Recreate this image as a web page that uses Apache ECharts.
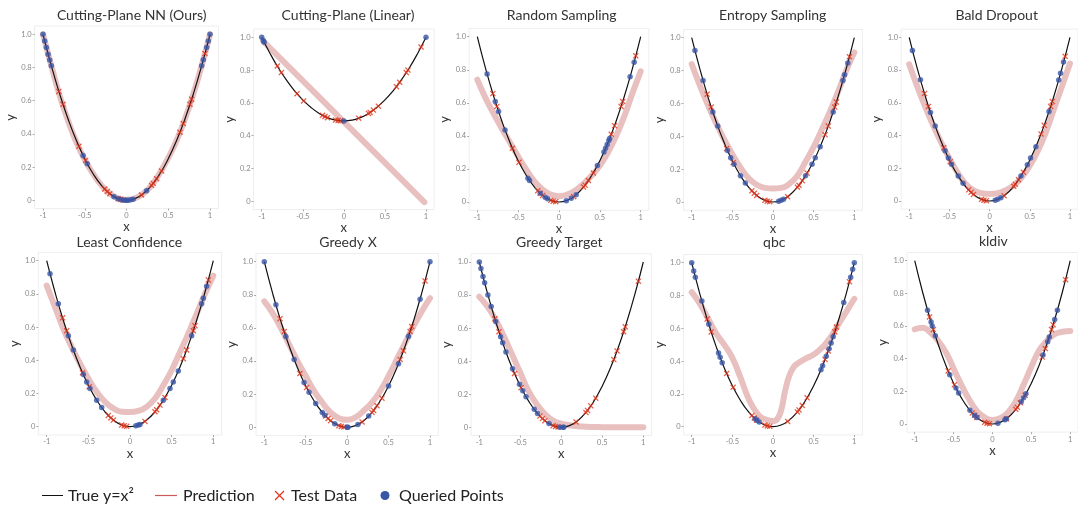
<!DOCTYPE html>
<html>
<head>
<meta charset="utf-8">
<script src="https://cdn.jsdelivr.net/npm/echarts@6/dist/echarts.min.js"></script>
<style>
html,body{margin:0;padding:0;background:#fff;}
#chart{width:1078px;height:510px;}
</style>
</head>
<body>
<div id="chart"></div>
<script>
// ---------------- DATA ----------------
const panelTitles = ['Cutting-Plane NN (Ours)', 'Cutting-Plane (Linear)', 'Random Sampling', 'Entropy Sampling', 'Bald Dropout',
  'Least Confidence', 'Greedy X', 'Greedy Target', 'qbc', 'kldiv'];

const xTicks = [-1, -0.5, 0, 0.5, 1];
const yTicks = [0, 0.2, 0.4, 0.6, 0.8, 1.0];

// true curve samples
const trueX = [-1, -0.9, -0.8, -0.7, -0.6, -0.5, -0.4, -0.3, -0.2, -0.1, 0, 0.1, 0.2, 0.3, 0.4, 0.5, 0.6, 0.7, 0.8, 0.9, 1];
const trueY = [1, 0.81, 0.64, 0.49, 0.36, 0.25, 0.16, 0.09, 0.04, 0.01, 0, 0.01, 0.04, 0.09, 0.16, 0.25, 0.36, 0.49, 0.64, 0.81, 1];
const trueYLinear = [1, 0.903, 0.816, 0.74, 0.674, 0.618, 0.572, 0.536, 0.51, 0.495, 0.49, 0.495, 0.51, 0.536, 0.572, 0.618, 0.674, 0.74, 0.816, 0.903, 1];

// test data (same points in every panel)
const testX = [-0.81, -0.76, -0.57, -0.49, -0.26, -0.23, -0.2, -0.1, -0.07, -0.04, 0.18, 0.3, 0.32, 0.36, 0.42, 0.64, 0.68, 0.76, 0.78, 0.94];
const testY = [0.656, 0.578, 0.325, 0.24, 0.068, 0.053, 0.04, 0.01, 0.005, 0.002, 0.032, 0.09, 0.102, 0.13, 0.176, 0.41, 0.462, 0.578, 0.608, 0.884];
const testYLinear = [0.825, 0.785, 0.656, 0.612, 0.524, 0.517, 0.51, 0.495, 0.492, 0.491, 0.507, 0.536, 0.542, 0.556, 0.58, 0.699, 0.726, 0.785, 0.8, 0.941];

// predictions
const predX = [-1, -0.9, -0.8, -0.7, -0.6, -0.5, -0.4, -0.3, -0.2, -0.1, 0, 0.1, 0.2, 0.3, 0.4, 0.5, 0.6, 0.7, 0.8, 0.9, 1];
const predCuttingNN = [1.0, 0.81, 0.63, 0.48, 0.35, 0.245, 0.16, 0.09, 0.04, 0.012, 0.003, 0.012, 0.04, 0.09, 0.165, 0.255, 0.36, 0.49, 0.64, 0.81, 1.0];
const predLinearX = [-0.98, 0.98];
const predLinear = [0.975, -0.005];
const predRandom = [0.74, 0.63, 0.535, 0.445, 0.36, 0.275, 0.195, 0.125, 0.075, 0.045, 0.035, 0.045, 0.07, 0.11, 0.16, 0.22, 0.3, 0.4, 0.52, 0.66, 0.79];
const predEntropy = [0.84, 0.71, 0.59, 0.48, 0.38, 0.29, 0.21, 0.145, 0.105, 0.086, 0.082, 0.086, 0.11, 0.16, 0.245, 0.335, 0.44, 0.55, 0.67, 0.8, 0.91];
const predBald = [0.835, 0.7, 0.575, 0.46, 0.355, 0.26, 0.175, 0.105, 0.065, 0.048, 0.043, 0.048, 0.065, 0.095, 0.145, 0.215, 0.305, 0.42, 0.56, 0.7, 0.84];
const predLeast = [0.85, 0.72, 0.59, 0.48, 0.38, 0.29, 0.21, 0.15, 0.11, 0.09, 0.088, 0.095, 0.12, 0.17, 0.25, 0.34, 0.45, 0.56, 0.68, 0.8, 0.91];
const predGreedyX = [0.76, 0.69, 0.6, 0.5, 0.4, 0.31, 0.22, 0.15, 0.09, 0.055, 0.045, 0.06, 0.1, 0.15, 0.22, 0.31, 0.41, 0.51, 0.61, 0.7, 0.78];
const predGreedyTarget = [0.79, 0.73, 0.65, 0.55, 0.44, 0.33, 0.22, 0.14, 0.08, 0.04, 0.022, 0.012, 0.007, 0.004, 0.002, 0.001, 0, 0, 0, 0, 0];
const predQbcX = [-1, -0.9, -0.8, -0.7, -0.6, -0.5, -0.4, -0.3, -0.2, -0.1, 0, 0.05, 0.1, 0.15, 0.2, 0.25, 0.3, 0.4, 0.5, 0.6, 0.7, 0.8, 0.9, 1];
const predQbc = [0.82, 0.75, 0.66, 0.57, 0.5, 0.42, 0.3, 0.17, 0.085, 0.045, 0.035, 0.045, 0.1, 0.22, 0.31, 0.36, 0.385, 0.415, 0.44, 0.48, 0.54, 0.62, 0.7, 0.78];
const predKldiv = [0.58, 0.59, 0.56, 0.51, 0.44, 0.34, 0.24, 0.15, 0.08, 0.04, 0.025, 0.035, 0.07, 0.14, 0.24, 0.35, 0.45, 0.51, 0.55, 0.565, 0.57];

// queried points [x, y]
const queriedCuttingNN = [[-1, 1], [-0.98, 0.96], [-0.96, 0.92], [-0.94, 0.88], [-0.92, 0.845], [-0.9, 0.81], [-0.52, 0.27], [-0.47, 0.22], [-0.15, 0.022], [-0.1, 0.01], [-0.06, 0.004], [-0.03, 0.001], [0, 0], [0.02, 0], [0.05, 0.003], [0.08, 0.006], [0.24, 0.058], [0.9, 0.81], [0.92, 0.846], [0.96, 0.92], [0.98, 0.96], [1, 1]];
const queriedLinear = [[-1, 1], [-0.98, 0.98], [-0.97, 0.97], [0, 0.49], [1, 1]];
const queriedRandom = [[-0.88, 0.774], [-0.78, 0.608], [-0.74, 0.548], [-0.66, 0.436], [-0.38, 0.144], [-0.36, 0.13], [-0.23, 0.053], [-0.17, 0.029], [-0.14, 0.02], [0.09, 0.008], [0.15, 0.023], [0.21, 0.044], [0.47, 0.221], [0.55, 0.303], [0.57, 0.325], [0.59, 0.348], [0.61, 0.372], [0.62, 0.384], [0.87, 0.757], [0.92, 0.846]];
const queriedEntropy = [[-0.96, 0.922], [-0.86, 0.74], [-0.74, 0.548], [-0.68, 0.462], [-0.56, 0.314], [-0.52, 0.27], [-0.48, 0.23], [-0.4, 0.16], [-0.34, 0.116], [0.07, 0.005], [0.1, 0.01], [0.13, 0.017], [0.4, 0.16], [0.48, 0.23], [0.52, 0.27], [0.58, 0.336], [0.74, 0.548], [0.86, 0.74], [0.88, 0.774], [0.92, 0.846]];
const queriedBald = [[-0.96, 0.92], [-0.86, 0.74], [-0.735, 0.54], [-0.677, 0.458], [-0.554, 0.307], [-0.513, 0.263], [-0.473, 0.224], [-0.39, 0.153], [-0.33, 0.108], [0.07, 0.005], [0.1, 0.01], [0.14, 0.02], [0.39, 0.153], [0.47, 0.222], [0.51, 0.263], [0.576, 0.332], [0.739, 0.546], [0.86, 0.739], [0.883, 0.78], [0.92, 0.849]];
const queriedLeast = [[-0.96, 0.922], [-0.86, 0.74], [-0.74, 0.548], [-0.68, 0.462], [-0.56, 0.314], [-0.52, 0.27], [-0.48, 0.23], [-0.4, 0.16], [-0.34, 0.116], [0.07, 0.005], [0.1, 0.01], [0.12, 0.014], [0.4, 0.16], [0.48, 0.23], [0.52, 0.27], [0.58, 0.336], [0.74, 0.548], [0.86, 0.74], [0.88, 0.774], [0.92, 0.846]];
const queriedGreedyX = [[-1, 1], [-0.86, 0.74], [-0.74, 0.548], [-0.64, 0.41], [-0.52, 0.27], [-0.46, 0.212], [-0.38, 0.144], [-0.3, 0.09], [-0.27, 0.073], [-0.15, 0.022], [0, 0], [0.01, 0], [0.13, 0.017], [0.26, 0.068], [0.5, 0.25], [0.62, 0.384], [0.74, 0.548], [0.88, 0.774], [1, 1]];
const queriedGreedyTarget = [[-1, 1], [-0.98, 0.96], [-0.955, 0.912], [-0.935, 0.874], [-0.895, 0.8], [-0.855, 0.731], [-0.8, 0.64], [-0.74, 0.548], [-0.715, 0.511], [-0.675, 0.456], [-0.595, 0.354], [-0.51, 0.26], [-0.47, 0.221], [-0.43, 0.185], [-0.33, 0.109], [-0.29, 0.084], [-0.15, 0.023], [-0.02, 0], [0.02, 0], [0.03, 0.001]];
const queriedQbc = [[-1, 1], [-0.975, 0.95], [-0.955, 0.912], [-0.875, 0.766], [-0.79, 0.624], [-0.67, 0.449], [-0.65, 0.423], [-0.625, 0.39], [-0.22, 0.048], [-0.2, 0.04], [-0.17, 0.029], [0.59, 0.348], [0.61, 0.372], [0.655, 0.429], [0.69, 0.476], [0.715, 0.511], [0.74, 0.548], [0.87, 0.757], [0.955, 0.912], [0.98, 0.96], [1, 1]];
const queriedKldiv = [[-0.835, 0.697], [-0.79, 0.624], [-0.775, 0.6], [-0.735, 0.54], [-0.55, 0.302], [-0.47, 0.221], [-0.435, 0.19], [-0.29, 0.084], [-0.23, 0.053], [-0.2, 0.04], [0.07, 0.005], [0.16, 0.026], [0.18, 0.032], [0.37, 0.137], [0.4, 0.16], [0.43, 0.185], [0.65, 0.423], [0.71, 0.504], [0.73, 0.533], [0.8, 0.64], [0.835, 0.697]];

// ---------------- BUILD ----------------
const zip = (xs, ys) => xs.map((x, i) => [x, ys[i]]);
const panels = [
  {pred: zip(predX, predCuttingNN), trueC: zip(trueX, trueY), test: zip(testX, testY), q: queriedCuttingNN},
  {pred: zip(predLinearX, predLinear), trueC: zip(trueX, trueYLinear), test: zip(testX, testYLinear), q: queriedLinear},
  {pred: zip(predX, predRandom), trueC: zip(trueX, trueY), test: zip(testX, testY), q: queriedRandom},
  {pred: zip(predX, predEntropy), trueC: zip(trueX, trueY), test: zip(testX, testY), q: queriedEntropy},
  {pred: zip(predX, predBald), trueC: zip(trueX, trueY), test: zip(testX, testY), q: queriedBald},
  {pred: zip(predX, predLeast), trueC: zip(trueX, trueY), test: zip(testX, testY), q: queriedLeast},
  {pred: zip(predX, predGreedyX), trueC: zip(trueX, trueY), test: zip(testX, testY), q: queriedGreedyX},
  {pred: zip(predX, predGreedyTarget), trueC: zip(trueX, trueY), test: zip(testX, testY), q: queriedGreedyTarget},
  {pred: zip(predQbcX, predQbc), trueC: zip(trueX, trueY), test: zip(testX, testY), q: queriedQbc},
  {pred: zip(predX, predKldiv), trueC: zip(trueX, trueY), test: zip(testX, testY), q: queriedKldiv}
];

// layout anchors: pixel of x=-1, x=1, y=1, y=0 ; title center
const anchors = [
  [43, 210, 34.3, 200.3, 131.7, 15.5],
  [261.7, 426, 37.3, 201.3, 348, 15.5],
  [477.3, 640.7, 36.7, 202, 561.7, 15.5],
  [691.7, 854.3, 37.7, 202, 772.7, 15.5],
  [909.3, 1072, 37.3, 201, 996.7, 15.5],
  [46.7, 213.3, 260.7, 426.7, 129.3, 242],
  [264.3, 430, 261.7, 427.3, 348, 242],
  [479.3, 643.3, 262, 427.3, 559.3, 242],
  [691.7, 854.3, 262.7, 426.7, 774.3, 242],
  [915, 1076, 260.7, 424, 993.3, 241.5]
];

const FONT = 'Lato, "Open Sans", sans-serif';
const PINK = '#e9c0c0', RED = '#e2361c', BLUE = '#3a56a6';
const XSYM = 'path://M1.5,0L5,3.5L8.5,0L10,1.5L6.5,5L10,8.5L8.5,10L5,6.5L1.5,10L0,8.5L3.5,5L0,1.5Z';

const grids = [], xAxes = [], yAxes = [], series = [], graphics = [];
anchors.forEach((a, i) => {
  const [xl, xr, yt, yb, tx, ty] = a;
  const wu = (xr - xl) / 2, hu = (yb - yt);
  grids.push({left: xl - 0.1 * wu, top: yt - 0.05 * hu, width: 2.2 * wu, height: 1.1 * hu,
    show: true, borderColor: '#eeeeee', borderWidth: 1, backgroundColor: 'transparent'});
  xAxes.push({type: 'value', gridIndex: i, min: -1.1, max: 1.1, position: 'bottom', name: 'x', nameLocation: 'middle', nameGap: 11,
    nameTextStyle: {fontFamily: FONT, fontSize: 13, color: '#333'},
    axisLine: {show: false, onZero: false}, splitLine: {show: false},
    axisTick: {show: true, length: 2, lineStyle: {color: '#aaa'}, customValues: xTicks},
    axisLabel: {customValues: xTicks, fontFamily: FONT, fontSize: 7.5, color: '#888', margin: 3}});
  yAxes.push({type: 'value', gridIndex: i, min: -0.05, max: 1.05, position: 'left', name: 'y', nameLocation: 'middle', nameGap: 14,
    nameTextStyle: {fontFamily: FONT, fontSize: 13, color: '#333'},
    axisLine: {show: false, onZero: false}, splitLine: {show: false},
    axisTick: {show: true, length: 2, lineStyle: {color: '#aaa'}, customValues: yTicks},
    axisLabel: {customValues: yTicks, fontFamily: FONT, fontSize: 7.5, color: '#888', margin: 3,
      formatter: v => (v === 0 ? '0' : v.toFixed(1))}});
  const p = panels[i];
  series.push({type: 'line', xAxisIndex: i, yAxisIndex: i, data: p.pred, smooth: true, symbol: 'none',
    lineStyle: {color: PINK, width: 6, cap: 'round'}, z: 1, silent: true});
  series.push({type: 'line', xAxisIndex: i, yAxisIndex: i, data: p.trueC, smooth: true, symbol: 'none',
    lineStyle: {color: '#111', width: 1.2}, z: 2, silent: true});
  series.push({type: 'scatter', xAxisIndex: i, yAxisIndex: i, data: p.test, symbol: XSYM, symbolSize: 6,
    itemStyle: {color: RED}, z: 3, silent: true});
  series.push({type: 'scatter', xAxisIndex: i, yAxisIndex: i, data: p.q, symbol: 'circle', symbolSize: 5.5,
    itemStyle: {color: BLUE}, z: 4, silent: true});
  graphics.push({type: 'text', x: tx, y: ty, style: {text: panelTitles[i], fill: '#333', font: '14px ' + FONT,
    align: 'center', verticalAlign: 'middle'}});
});

// legend
const LY = 495.5;
const legendFont = '16px ' + FONT;
graphics.push(
  {type: 'line', shape: {x1: 42, y1: LY, x2: 63, y2: LY}, style: {stroke: '#111', lineWidth: 1}},
  {type: 'text', x: 68, y: LY, style: {text: 'True y=x²', fill: '#222', font: legendFont, verticalAlign: 'middle'}},
  {type: 'line', shape: {x1: 155, y1: LY, x2: 177, y2: LY}, style: {stroke: '#cc5a5a', lineWidth: 1.2}},
  {type: 'text', x: 183, y: LY, style: {text: 'Prediction', fill: '#222', font: legendFont, verticalAlign: 'middle'}},
  {type: 'line', shape: {x1: 275, y1: LY - 4.5, x2: 284, y2: LY + 4.5}, style: {stroke: RED, lineWidth: 1.3}},
  {type: 'line', shape: {x1: 275, y1: LY + 4.5, x2: 284, y2: LY - 4.5}, style: {stroke: RED, lineWidth: 1.3}},
  {type: 'text', x: 291, y: LY, style: {text: 'Test Data', fill: '#222', font: legendFont, verticalAlign: 'middle'}},
  {type: 'circle', shape: {cx: 385, cy: LY, r: 4.5}, style: {fill: BLUE}},
  {type: 'text', x: 399, y: LY, style: {text: 'Queried Points', fill: '#222', font: legendFont, verticalAlign: 'middle'}}
);

const chart = echarts.init(document.getElementById('chart'), null, {renderer: 'canvas'});
chart.setOption({
  animation: false,
  backgroundColor: '#fff',
  grid: grids, xAxis: xAxes, yAxis: yAxes, series: series,
  graphic: graphics
});
</script>
</body>
</html>
